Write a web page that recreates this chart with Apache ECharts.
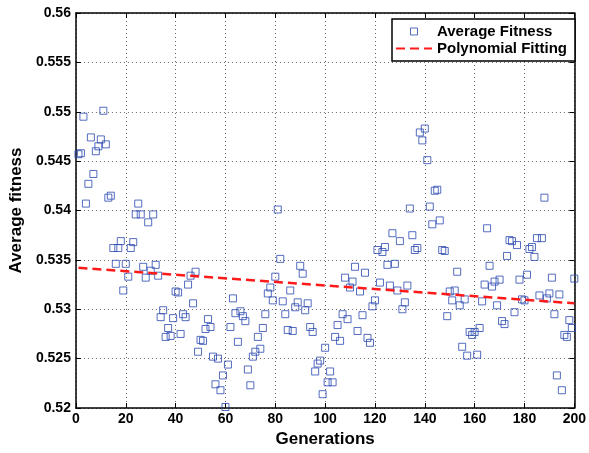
<!DOCTYPE html>
<html>
<head>
<meta charset="utf-8">
<script src="https://cdn.jsdelivr.net/npm/echarts@6/dist/echarts.min.js"></script>
<style>
html,body{margin:0;padding:0;background:#fff;}
#chart{width:589px;height:453px;}
</style>
</head>
<body>
<div id="chart"></div>
<script>
// Average fitness per generation (generations 1..200)
const fitness = [
0.5457,0.5458,0.5495,0.5407,0.5427,0.5474,0.5437,0.5460,0.5465,0.5472,
0.5501,0.5467,0.5413,0.5415,0.5362,0.5346,0.5362,0.5369,0.5319,0.5346,
0.5333,0.5362,0.5368,0.5396,0.5407,0.5396,0.5343,0.5332,0.5388,0.5339,
0.5396,0.5345,0.5334,0.5292,0.5299,0.5272,0.5281,0.5273,0.5291,0.5318,
0.5317,0.5275,0.5295,0.5292,0.5325,0.5334,0.5306,0.5338,0.5257,0.5269,
0.5268,0.5280,0.5290,0.5282,0.5252,0.5224,0.5250,0.5218,0.5233,0.5201,
0.5244,0.5282,0.5311,0.5296,0.5267,0.5298,0.5293,0.5288,0.5239,0.5223,
0.5252,0.5257,0.5272,0.5260,0.5281,0.5295,0.5316,0.5322,0.5309,0.5333,
0.5401,0.5351,0.5308,0.5295,0.5279,0.5319,0.5278,0.5302,0.5307,0.5344,
0.5336,0.5299,0.5306,0.5282,0.5277,0.5237,0.5245,0.5248,0.5214,0.5261,
0.5226,0.5237,0.5226,0.5272,0.5284,0.5268,0.5295,0.5332,0.5290,0.5322,
0.5328,0.5343,0.5278,0.5318,0.5294,0.5337,0.5271,0.5266,0.5303,0.5309,
0.5360,0.5327,0.5358,0.5363,0.5345,0.5324,0.5377,0.5346,0.5319,0.5369,
0.5300,0.5307,0.5324,0.5402,0.5375,0.5360,0.5362,0.5479,0.5471,0.5483,
0.5451,0.5404,0.5386,0.5420,0.5421,0.5390,0.5360,0.5359,0.5293,0.5318,
0.5309,0.5319,0.5338,0.5304,0.5262,0.5310,0.5253,0.5277,0.5274,0.5277,
0.5254,0.5281,0.5308,0.5325,0.5382,0.5344,0.5323,0.5328,0.5304,0.5330,
0.5288,0.5285,0.5354,0.5370,0.5369,0.5297,0.5365,0.5330,0.5310,0.5309,
0.5335,0.5361,0.5363,0.5353,0.5372,0.5314,0.5372,0.5413,0.5311,0.5316,
0.5332,0.5295,0.5233,0.5315,0.5218,0.5274,0.5272,0.5289,0.5281,0.5331
];
const generations = fitness.map((_, i) => i + 1);
// Polynomial (linear) fit endpoints
const fitX = [1, 200];
const fitY = [0.5342, 0.5306];
const seriesNames = ['Average Fitness', 'Polynomial Fitting'];
const xLabel = 'Generations';
const yLabel = 'Average fitness';

const FONT = "'Liberation Sans', Arial, sans-serif";
const BLUE = '#2b48b0';
const RED = '#ff1a1a';
const chart = echarts.init(document.getElementById('chart'), null, {renderer: 'canvas'});

const gridLine = {show: true, lineStyle: {color: '#666', width: 1, type: [1, 3]}};
const axisLine = {show: true, onZero: false, lineStyle: {color: '#000', width: 1.5}};
const tickIn = {show: true, inside: true, length: 5, lineStyle: {color: '#000', width: 1}};

chart.setOption({
  animation: false,
  backgroundColor: '#fff',
  grid: {left: 73, top: 13, right: 14, bottom: 45, containLabel: false},
  xAxis: [{
    type: 'value', min: 0, max: 200, interval: 20, position: 'bottom',
    name: xLabel, nameLocation: 'middle', nameGap: 22,
    nameTextStyle: {fontFamily: FONT, fontWeight: 'bold', fontSize: 17, color: '#000'},
    axisLine: axisLine, axisTick: tickIn, splitLine: gridLine,
    axisLabel: {fontFamily: FONT, fontWeight: 'bold', fontSize: 14, color: '#000', margin: 4}
  }, {
    type: 'value', min: 0, max: 200, interval: 20, position: 'top',
    axisLine: axisLine, axisTick: tickIn, splitLine: {show: false}, axisLabel: {show: false}
  }],
  yAxis: [{
    type: 'value', min: 0.52, max: 0.56, interval: 0.005, position: 'left',
    name: yLabel, nameLocation: 'middle', nameGap: 46,
    nameTextStyle: {fontFamily: FONT, fontWeight: 'bold', fontSize: 17, color: '#000'},
    axisLine: axisLine, axisTick: tickIn, splitLine: gridLine,
    axisLabel: {fontFamily: FONT, fontWeight: 'bold', fontSize: 14, color: '#000', margin: 5,
      formatter: v => parseFloat(v.toFixed(4)).toString()}
  }, {
    type: 'value', min: 0.52, max: 0.56, interval: 0.005, position: 'right',
    axisLine: axisLine, axisTick: tickIn, splitLine: {show: false}, axisLabel: {show: false}
  }],
  legend: {
    orient: 'vertical', right: 14, top: 19,
    backgroundColor: '#fff', borderColor: '#000', borderWidth: 1.5,
    padding: [4, 8, 4, 3], itemWidth: 36, itemHeight: 7, itemGap: 0,
    symbolKeepAspect: true,
    textStyle: {fontFamily: FONT, fontWeight: 'bold', fontSize: 15, color: '#000', lineHeight: 17},
    data: [
      {name: seriesNames[0], icon: 'path://M0,0 H10 V10 H0 Z',
       itemStyle: {color: 'rgba(255,255,255,0)', borderColor: BLUE, borderWidth: 1}},
      {name: seriesNames[1], itemStyle: {opacity: 0}}
    ]
  },
  series: [{
    name: seriesNames[0], type: 'scatter', symbol: 'rect', symbolSize: 7,
    itemStyle: {color: 'rgba(255,255,255,0)', borderColor: BLUE, borderWidth: 1},
    data: generations.map((g, i) => [g, fitness[i]]), z: 3
  }, {
    name: seriesNames[1], type: 'line', symbol: 'none',
    lineStyle: {color: RED, width: 2.5, type: [9, 5]},
    itemStyle: {color: RED},
    data: fitX.map((x, i) => [x, fitY[i]]), z: 4
  }]
});
</script>
</body>
</html>
